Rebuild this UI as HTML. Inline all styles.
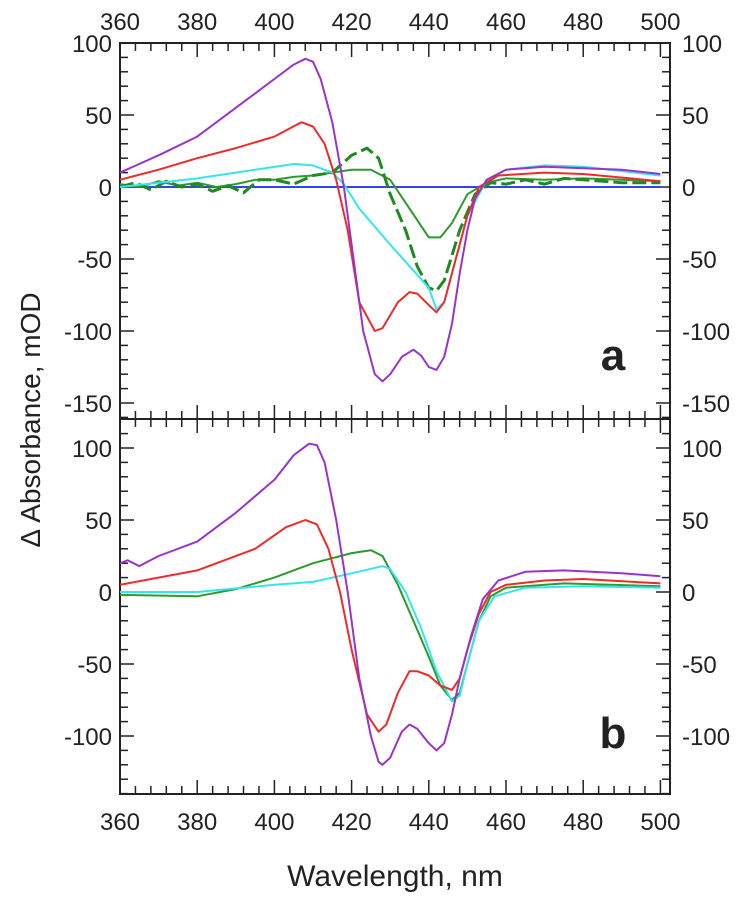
<!DOCTYPE html>
<html><head><meta charset="utf-8"><style>
body{margin:0;background:#fff}
svg text{font-family:"Liberation Sans",sans-serif;fill:#222}
</style></head><body>
<svg id="c" width="750" height="902" xmlns="http://www.w3.org/2000/svg"></svg>
<script>
const wlA = [360,370,380,390,400,405,408,410,412,415,418,420,423,426,428,430,433,436,438,440,442,444,446,448,450,452,455,460,470,480,490,500];
const aPurple = [10,22,35,55,75,85,89,87,75,45,0,-40,-100,-130,-135,-130,-118,-113,-117,-125,-127,-118,-95,-60,-30,-8,5,12,14,13,12,9];
const wlARed = [360,370,380,390,400,407,410,413,416,419,422,426,428,432,435,437,440,442,444,447,450,453,458,470,480,500];
const aRed = [5,12,20,27,35,45,42,30,5,-30,-80,-100,-98,-80,-73,-74,-82,-87,-80,-50,-20,0,8,10,9,4];
const wlACyan = [360,370,380,395,405,410,415,418,422,430,440,442,444,447,450,455,460,470,480,500];
const aCyan = [0,3,6,12,16,15,10,2,-15,-40,-70,-85,-80,-50,-20,5,12,15,14,8];
const wlAGreen = [360,365,370,375,380,385,390,395,400,405,410,415,420,425,430,435,440,443,446,450,455,460,470,480,490,500];
const aGreen = [2,0,4,1,3,0,2,5,5,7,8,10,12,12,5,-15,-35,-35,-25,-5,3,6,5,6,5,4];
const wlAGreenD = [360,364,368,372,376,380,384,388,392,396,400,405,410,415,420,424,427,430,434,437,440,442,444,448,452,456,460,465,470,475,480,490,500];
const aGreenD = [0,3,-2,4,0,2,-3,1,-4,5,5,2,8,10,22,27,20,-5,-30,-55,-70,-72,-65,-30,-5,3,2,5,2,6,5,3,3];
const wlABlue = [360,500];
const aBlue = [0,0];

const wlB = [360,362,365,370,380,390,400,405,409,411,413,416,419,422,425,427,428,430,433,435,437,440,442,444,446,448,451,454,458,465,475,490,500];
const bPurple = [20,22,18,25,35,55,78,95,103,102,90,50,0,-60,-100,-118,-120,-115,-97,-92,-95,-105,-110,-105,-85,-60,-30,-5,8,14,15,13,11];
const wlBRed = [360,380,395,403,408,411,414,417,420,424,427,429,432,435,437,440,443,446,448,450,453,456,460,470,480,500];
const bRed = [5,15,30,45,50,47,30,0,-40,-85,-97,-92,-70,-55,-55,-58,-65,-68,-60,-40,-15,0,5,8,9,6];
const wlBGreen = [360,380,390,400,410,420,425,428,432,436,440,443,446,448,450,453,456,460,475,500];
const bGreen = [-2,-3,2,10,20,27,29,25,5,-20,-45,-65,-75,-70,-50,-20,-3,3,6,4];
const wlBCyan = [360,380,400,410,420,428,430,434,438,442,446,448,450,453,457,465,480,500];
const bCyan = [0,0,5,7,13,18,16,0,-25,-55,-76,-72,-50,-20,-3,3,4,3];

const xTicks = [360,380,400,420,440,460,480,500];
const yTicksA = [100,50,0,-50,-100,-150];
const yTicksB = [100,50,0,-50,-100];

const svg = document.getElementById('c');
const NS='http://www.w3.org/2000/svg';
const L=120,R=670;
const x = v => L + (v-360)*3.86;
const yA = v => 187 - v*1.44;
const yB = v => 592 - v*1.44;
function mk(tag, attrs, parent){const e=document.createElementNS(NS,tag);for(const k in attrs)e.setAttribute(k,attrs[k]);(parent||svg).appendChild(e);return e;}

function line(xs, ys, yf, color, name, dash){
  const d = xs.map((w,i)=>(i?'L':'M')+x(w).toFixed(1)+','+yf(ys[i]).toFixed(1)).join('');
  const p = mk('path',{d:d,fill:'none',stroke:color,'stroke-width':dash?3:2,'stroke-linejoin':'round'});
  if(dash)p.setAttribute('stroke-dasharray','14,5');
  
  
}
function panel(top,bot,yf,yTicks,vmin,vmax,label,pname){
  const g = mk('g',{});
  
  
  mk('rect',{x:L,y:top,width:R-L,height:bot-top,fill:'none',stroke:'#222','stroke-width':2},g);
  for(let v=360; v<=500; v+=4){
    const len=(v%20===0)?14:8;
    mk('line',{x1:x(v),x2:x(v),y1:bot,y2:bot-len,stroke:'#222','stroke-width':1.5},g);
    mk('line',{x1:x(v),x2:x(v),y1:top,y2:top+len,stroke:'#222','stroke-width':1.5},g);
  }
  for(let v=Math.ceil(vmin/10)*10; v<=vmax; v+=10){
    const len=(v%50===0)?14:8;
    mk('line',{x1:L,x2:L+len,y1:yf(v),y2:yf(v),stroke:'#222','stroke-width':1.5},g);
    mk('line',{x1:R,x2:R-len,y1:yf(v),y2:yf(v),stroke:'#222','stroke-width':1.5},g);
  }
  yTicks.forEach(v=>{
    const t1=mk('text',{x:L-8,y:yf(v)+9,'text-anchor':'end','font-size':24},g);t1.textContent=v;
    
    
    const t2=mk('text',{x:R+12,y:yf(v)+9,'text-anchor':'start','font-size':24},g);t2.textContent=v;
    
    
  });
  const lb=mk('text',{x:613,y:label==='a'?370:748,'text-anchor':'middle','font-size':44,'font-weight':'bold'},g);lb.textContent=label;
  
  
}
panel(43,419,yA,yTicksA,-161,100,'a','panel-a');
panel(419,794,yB,yTicksB,-140,121,'b','panel-b');

xTicks.forEach(v=>{
  const t=mk('text',{x:x(v),y:30,'text-anchor':'middle','font-size':24});t.textContent=v;
  
  
  const b=mk('text',{x:x(v),y:830,'text-anchor':'middle','font-size':24});b.textContent=v;
  
  
});

line(wlABlue,aBlue,yA,'#3344ee','a-blue');
line(wlAGreen,aGreen,yA,'#2e9a2e','a-green-solid');
line(wlAGreenD,aGreenD,yA,'#1f8a1f','a-green-dashed',true);
line(wlACyan,aCyan,yA,'#33e6ee','a-cyan');
line(wlARed,aRed,yA,'#ee2a2a','a-red');
line(wlA,aPurple,yA,'#9933cc','a-purple');

line(wlBGreen,bGreen,yB,'#2e9a2e','b-green');
line(wlBCyan,bCyan,yB,'#33e6ee','b-cyan');
line(wlBRed,bRed,yB,'#ee2a2a','b-red');
line(wlB,bPurple,yB,'#9933cc','b-purple');

const xt=mk('text',{x:395,y:886,'text-anchor':'middle','font-size':30});xt.textContent='Wavelength, nm';


const yt=mk('text',{x:0,y:0,'text-anchor':'middle','font-size':28,transform:'translate(40,420) rotate(-90)'});yt.textContent='Δ Absorbance, mOD';


</script>
</body></html>
